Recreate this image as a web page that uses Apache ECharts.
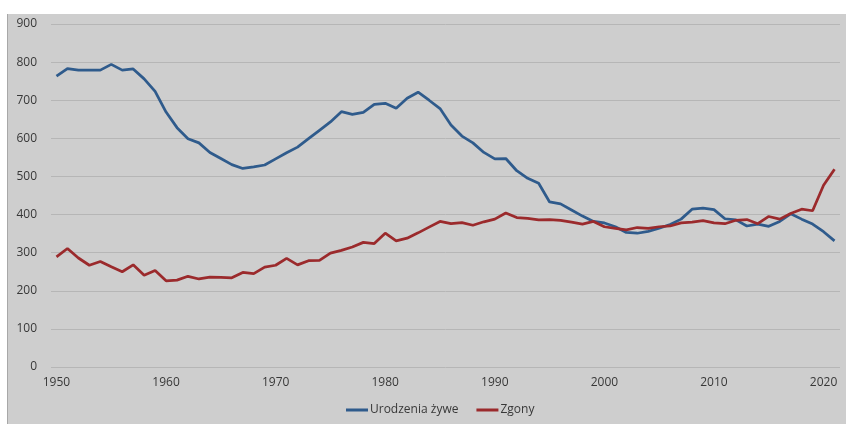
<!DOCTYPE html>
<html><head><meta charset="utf-8">
<script src="https://cdn.jsdelivr.net/npm/echarts@6/dist/echarts.min.js"></script>
<style>
html,body{margin:0;padding:0;background:#fff;width:846px;height:424px;overflow:hidden;}
#c{position:absolute;left:7px;top:14px;width:839px;height:410px;background:#cecece;border-left:1px solid #a8a8a8;box-sizing:border-box;}
</style></head><body>
<div id="c"></div>
<script>
const years = [];
for (let y = 1950; y <= 2021; y++) years.push(String(y));
const births = [763,783,779,779,779,794,779,782,756,723,669,628,599,588,563,547,531,521,525,530,546,562,577,599,621,643,670,663,668,689,692,679,705,721,700,678,635,606,588,563,546,547,515,495,482,433,428,412,396,382,378,368,353,351,356,364,374,388,414,417,413,389,386,370,375,369,382,402,388,375,355,331];
const deaths = [289,311,286,267,277,263,250,268,241,253,226,228,238,231,236,235,234,248,245,262,267,285,268,279,280,299,306,315,327,324,351,331,338,352,367,382,376,379,372,381,388,404,392,390,386,387,385,380,375,382,368,364,360,366,364,368,370,378,380,384,378,376,385,387,376,395,388,403,414,410,477,519];
const seriesNames = ['Urodzenia żywe','Zgony'];
const chart = echarts.init(document.getElementById('c'));
chart.setOption({
  animation:false,
  textStyle:{fontFamily:'Open Sans, Liberation Sans, sans-serif'},
  grid:{left:43,right:6,top:10,bottom:57},
  legend:{bottom:3,left:333,itemWidth:22,itemHeight:3,icon:'rect',itemGap:18,
    textStyle:{color:'#383838',fontSize:12,padding:[0,0,0,-3]},data:seriesNames},
  xAxis:{type:'category',data:years,boundaryGap:true,
    axisLine:{show:false},axisTick:{show:false},
    axisLabel:{interval:9,color:'#383838',fontSize:12,margin:10}},
  yAxis:{type:'value',min:0,max:900,interval:100,
    axisLabel:{color:'#383838',fontSize:12,margin:14},
    splitLine:{lineStyle:{color:'#b6b6b6',width:1}}},
  series:[
    {name:seriesNames[0],type:'line',data:births,symbol:'none',lineStyle:{color:'#2f5b8c',width:2.75},itemStyle:{color:'#2f5b8c'}},
    {name:seriesNames[1],type:'line',data:deaths,symbol:'none',lineStyle:{color:'#9b2a2c',width:2.75},itemStyle:{color:'#9b2a2c'}}
  ]
});
</script></body></html>
